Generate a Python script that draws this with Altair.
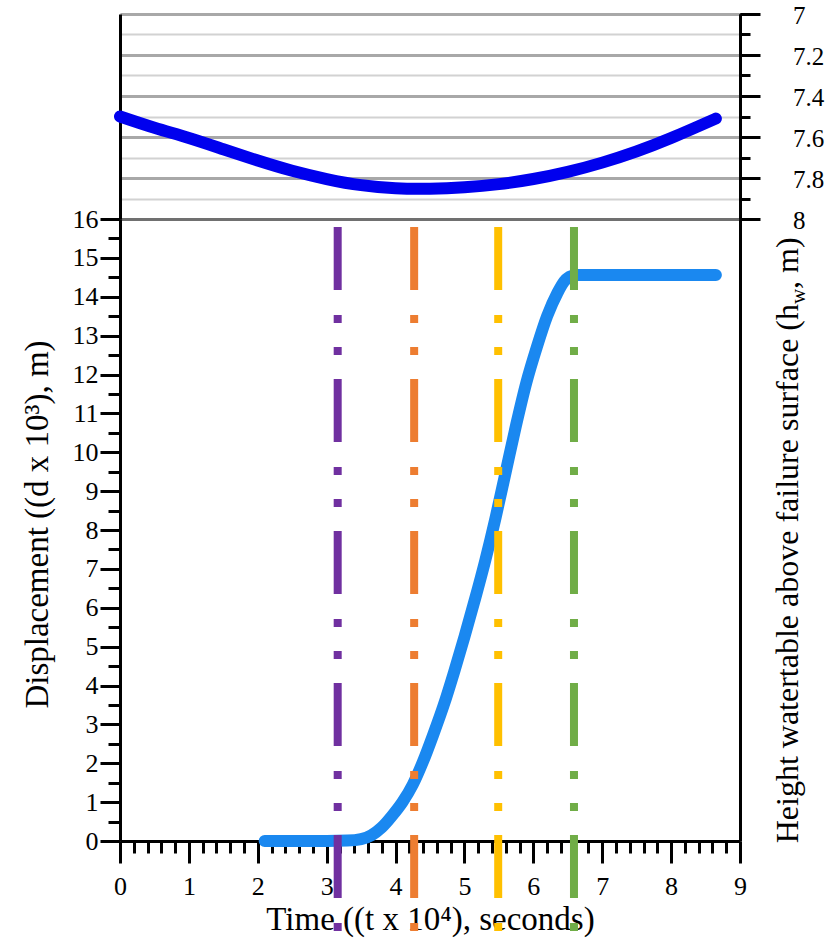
import altair as alt
import pandas as pd

# ---------------- data ----------------
# displacement curve (t in 10^4 s, d in 10^-3 m)
t_disp = [2.1, 2.5, 3.0, 3.3, 3.5, 3.65, 3.8, 3.95, 4.1, 4.25, 4.4, 4.55, 4.7, 4.85,
          5.0, 5.15, 5.3, 5.45, 5.6, 5.75, 5.9, 6.05, 6.2, 6.35, 6.45, 6.55, 6.65,
          7.0, 8.0, 8.65]
d_disp = [0.0, 0.0, 0.0, 0.01, 0.05, 0.15, 0.35, 0.65, 1.0, 1.45, 2.05, 2.75, 3.5, 4.35,
          5.25, 6.2, 7.2, 8.3, 9.5, 10.7, 11.8, 12.7, 13.5, 14.1, 14.4, 14.53, 14.56,
          14.56, 14.56, 14.56]

# height of water table above failure surface (m)
t_hw = [0.0, 0.5, 1.0, 1.5, 2.0, 2.5, 3.0, 3.5, 4.0, 4.5, 5.0, 5.5, 6.0, 6.5, 7.0,
        7.5, 8.0, 8.65]
hw = [7.50, 7.555, 7.605, 7.66, 7.715, 7.765, 7.805, 7.835, 7.85, 7.852, 7.845, 7.83,
      7.805, 7.77, 7.725, 7.67, 7.605, 7.51]
hw_tick_labels = [7.0, 7.2, 7.4, 7.6, 7.8, 8.0]

# vertical stage markers
t_marks = [3.16, 4.27, 5.49, 6.59]
mark_colors = ["#7030A0", "#ED7D31", "#FFC000", "#70AD47"]

x_title = "Time ((t x 10\u2074), seconds)"
y_title = "Displacement ((d x 10\u00b3), m)"
r_title_main = "Height watertable above failure surface (h"
r_title_sub = "w"
r_title_tail = ", m)"

FONT = "Times New Roman, Liberation Serif, Tinos, serif"
W = 620
H_TOP = 205          # water-table band
H = 827              # whole plot area (band + displacement panel)
LBL = 26
TTL = 33

disp_df = pd.DataFrame({"t": t_disp, "d": d_disp})
hw_df = pd.DataFrame({"t": t_hw, "hw": hw})
hw_lab_df = pd.DataFrame({"v": hw_tick_labels})
marks_df = pd.DataFrame({"t": t_marks, "color": mark_colors})

x_scale = alt.Scale(domain=[0, 9], nice=False, zero=False)
hw_scale = alt.Scale(domain=[7, 8], range=[0, H_TOP], nice=False, zero=False)
d_scale = alt.Scale(domain=[0, 16], range=[H, H_TOP], nice=False, zero=False)

is_int = "abs(datum.value - round(datum.value)) < 0.01"

x_axis = alt.Axis(tickCount=45, title=x_title, grid=False,
                  domainColor="black", domainWidth=3, tickColor="black", tickWidth=3,
                  tickSize={"condition": {"test": is_int, "value": 22}, "value": 12},
                  labelExpr=f"({is_int}) ? format(datum.value, 'd') : ''",
                  labelFont=FONT, labelFontSize=LBL, labelColor="black", labelPadding=10,
                  labelOverlap=False, labelFlush=False,
                  titleFont=FONT, titleFontSize=TTL, titleFontWeight="normal", titleColor="black",
                  titleX=W / 2, titleY=88, titleAlign="center", titleBaseline="alphabetic")
X = alt.X("t:Q", scale=x_scale, axis=x_axis)

# ---------------- water-table band ----------------
hw_left = alt.Chart(hw_df).mark_line(opacity=0).encode(
    x=X,
    y=alt.Y("hw:Q", scale=hw_scale,
            axis=alt.Axis(orient="left", title=None, labels=False, ticks=False, grid=False,
                          domainColor="black", domainWidth=3))
)
# minor ticks + light grid every 0.1
hw_minor = alt.Chart(hw_df).mark_line(opacity=0).encode(
    x=X,
    y=alt.Y("hw:Q", scale=hw_scale,
            axis=alt.Axis(orient="right", title=None, tickCount=10, labels=False,
                          grid=True, gridColor="#d2d2d2", gridWidth=2,
                          domainColor="black", domainWidth=3,
                          tickColor="black", tickWidth=3, tickSize=10))
)
# major ticks and darker grid every 0.2
hw_line = alt.Chart(hw_df).mark_line(
    color="#0000ee", strokeWidth=12, strokeCap="round", interpolate="natural"
).encode(
    x=X,
    y=alt.Y("hw:Q", scale=hw_scale,
            axis=alt.Axis(orient="right", title=None, tickCount=5, labels=False, grid=True,
                          gridColor={"condition": {"test": "datum.value > 7.99", "value": "#707070"},
                                     "value": "#a8a8a8"},
                          gridWidth=3,
                          domainColor="black", domainWidth=3,
                          tickColor="black", tickWidth=3, tickSize=20))
)
# right-hand tick labels of the band
hw_labels = alt.Chart(hw_lab_df).mark_text(
    font=FONT, fontSize=25, align="left", baseline="middle", color="black", dy=2
).encode(
    y=alt.Y("v:Q", scale=hw_scale, axis=None),
    x=alt.value(673),
    text=alt.Text("v:Q", format="~g"),
)

# ---------------- displacement panel ----------------
d_right = alt.Chart(disp_df).mark_line(opacity=0).encode(
    x=X,
    y=alt.Y("d:Q", scale=d_scale,
            axis=alt.Axis(orient="right", title=None, labels=False, ticks=False, grid=False,
                          domainColor="black", domainWidth=3))
)
disp_line = alt.Chart(disp_df).mark_line(
    color="#1a88f0", strokeWidth=12, strokeCap="round", interpolate="monotone"
).encode(
    x=X,
    y=alt.Y("d:Q", scale=d_scale,
            axis=alt.Axis(orient="left", tickCount=32, title=y_title, grid=False,
                          domainColor="black", domainWidth=3, tickColor="black", tickWidth=3,
                          tickSize={"condition": {"test": is_int, "value": 20}, "value": 12},
                          labelExpr=f"({is_int}) ? format(datum.value, 'd') : ''",
                          labelFont=FONT, labelFontSize=LBL, labelColor="black", labelPadding=2,
                          labelOverlap=False, labelFlush=False,
                          titleFont=FONT, titleFontSize=TTL, titleFontWeight="normal",
                          titleColor="black", titleAngle=270, titleX=-73, titleY=H_TOP + 305,
                          titleAlign="center", titleBaseline="alphabetic"))
)
rules = alt.Chart(marks_df).mark_rule(
    strokeWidth=8, strokeDash=[63, 25, 8, 24, 8, 24]
).encode(
    x=X,
    y=alt.value(H_TOP + 8), y2=alt.value(H_TOP + 712),
    color=alt.Color("color:N", scale=None, legend=None),
)

def rtext(s, size, align, dx=0, dy=0):
    return alt.Chart(pd.DataFrame({"s": [s]})).mark_text(
        font=FONT, fontSize=size, angle=270, align=align, baseline="alphabetic",
        color="black", dx=dx, dy=dy
    ).encode(text="s:N", x=alt.value(678), y=alt.value(H_TOP + 85))

t1 = rtext(r_title_main, 32, "right")
t2 = rtext(r_title_sub, 21, "left", dy=7)
t3 = rtext(r_title_tail, 32, "left", dx=15)

chart = alt.layer(hw_left, hw_minor, hw_line, hw_labels, d_right, disp_line, rules,
                  t1, t2, t3).resolve_scale(
    y="independent").resolve_axis(y="independent").properties(
    width=W, height=H,
    autosize=alt.AutoSizeParams(type="none"),
    padding={"left": 120, "top": 14, "right": 87, "bottom": 100},
    background="white",
).configure_view(stroke=None)

chart.save("out.html", embed_options={"renderer": "svg", "actions": False})
